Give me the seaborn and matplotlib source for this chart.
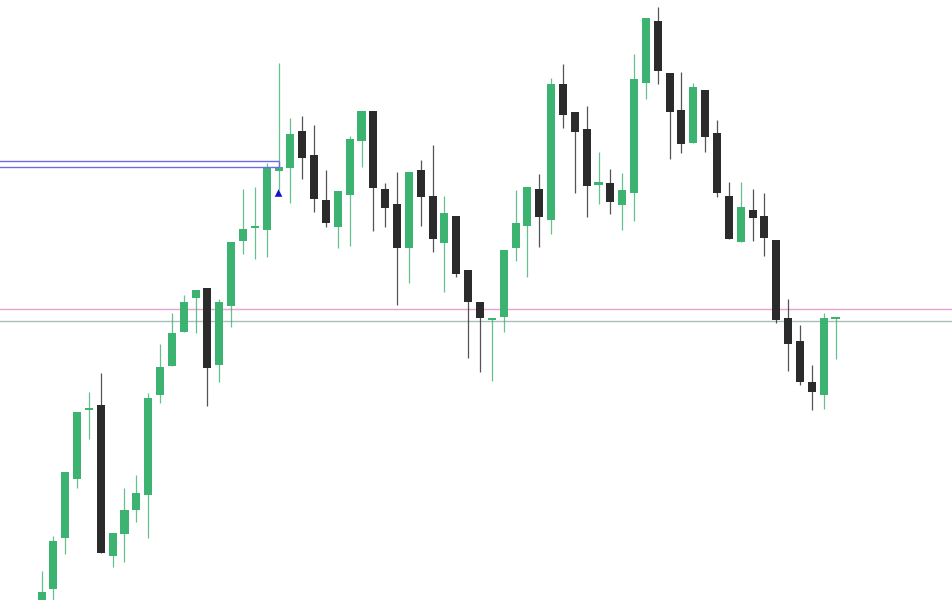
import numpy as np
import pandas as pd
import seaborn as sns
import matplotlib.pyplot as plt

# candle data (index of first visible candle = 3)
first_idx = 3
opens = [-4, 11, 62, 121, 190, 195, 44, 66, 90, 105, 205, 234, 268, 302, 312, 235, 294, 359, 372, 370,
         429, 432, 469, 445, 400, 373, 405, 459, 489, 411, 396, 352, 430, 404, 357, 384, 330, 298, 280, 283,
         352, 374, 411, 380, 516, 488, 471, 415, 417, 395, 407, 517, 579, 527, 490, 457, 510, 467, 404, 358,
         390, 384, 360, 282, 259, 218, 205, 281]
closes = [8, 59, 128, 188, 192, 47, 67, 90, 107, 202, 233, 267, 298, 310, 232, 298, 358, 371, 374, 433,
          433, 466, 442, 401, 377, 409, 461, 489, 412, 392, 352, 428, 403, 361, 387, 326, 298, 282, 281, 350,
          377, 413, 383, 516, 485, 468, 414, 418, 398, 410, 521, 582, 529, 488, 456, 513, 463, 407, 361, 393,
          382, 362, 280, 256, 218, 208, 282, 282]
highs = [29, 64, 128, 188, 208, 227, 67, 112, 125, 207, 256, 287, 305, 310, 312, 301, 358, 411, 413, 437,
         537, 482, 484, 475, 430, 409, 464, 489, 489, 417, 428, 428, 440, 455, 404, 384, 330, 298, 281, 350,
         410, 413, 426, 522, 536, 488, 494, 448, 431, 427, 546, 582, 593, 527, 528, 517, 510, 480, 418, 418,
         411, 407, 360, 301, 275, 235, 287, 282]
lows = [-10, 0, 46, 112, 161, 47, 33, 38, 78, 62, 197, 234, 268, 267, 194, 218, 273, 346, 341, 343,
        410, 397, 421, 388, 373, 352, 354, 433, 369, 373, 295, 317, 374, 348, 308, 323, 242, 228, 219, 268,
        339, 323, 353, 366, 472, 407, 383, 396, 386, 370, 379, 501, 516, 441, 447, 457, 448, 403, 361, 358,
        359, 344, 277, 229, 215, 190, 191, 241]

# reference lines
pink_level = 291
grey_level = 279
box_levels = [439, 433]
box_end_idx = 23
signal_idx = [23]
signal_price = [407]

df = pd.DataFrame({"open": opens, "close": closes, "high": highs, "low": lows})
df["idx"] = np.arange(first_idx, first_idx + len(df))
df["up"] = df["close"] >= df["open"]

green = "#3cb371"
dark = "#2b2b2b"

sns.set_style("white")
fig = plt.figure(figsize=(9.52, 6), dpi=100)
ax = fig.add_axes([0, 0, 1, 1])

colors = np.where(df["up"], green, dark)

# wicks
ax.vlines(df["idx"], df["low"], df["high"], colors=colors, linewidth=0.9, alpha=0.8, zorder=2)

# bodies
bottom = np.minimum(df["open"], df["close"])
height = np.maximum(np.abs(df["close"] - df["open"]), 1.6)
ax.bar(df["idx"], height, bottom=bottom, width=0.68, color=colors, linewidth=0, zorder=3)

# horizontal levels
ax.axhline(pink_level, color="#e6a3cf", linewidth=1.0, zorder=1)
ax.axhline(grey_level, color="#a9bdbd", linewidth=1.0, zorder=1)

# blue box lines
x_left = -1
for lvl in box_levels:
    ax.hlines(lvl, x_left, box_end_idx, color="#6b6bea", linewidth=1.0, zorder=4)
ax.vlines(box_end_idx, box_levels[1], box_levels[0], color="#6b6bea", linewidth=1.0, zorder=4)

# signal marker
sns.scatterplot(x=signal_idx, y=signal_price, marker="^", s=30, color="#1414c8",
                edgecolor="none", ax=ax, zorder=5)

ax.set_xlim(-0.506, 79.83)
ax.set_ylim(0, 600)
ax.axis("off")

fig.savefig("out.png", dpi=100)
